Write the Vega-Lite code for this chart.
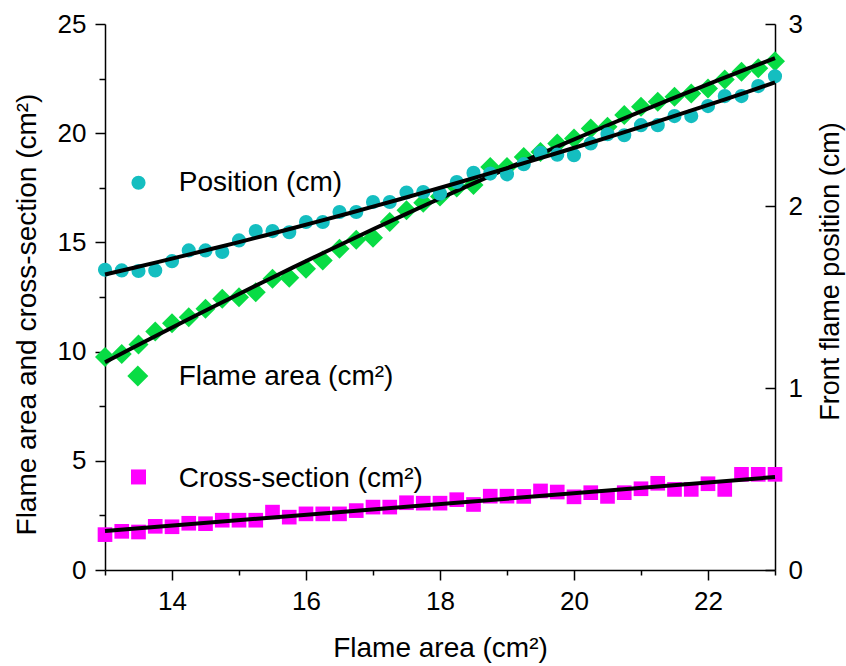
{
  "$schema": "https://vega.github.io/schema/vega-lite/v6.json",
  "width": 670,
  "height": 546,
  "autosize": {"type": "none"},
  "padding": {"left": 105, "top": 24, "right": 71, "bottom": 96},
  "background": "white",
  "config": {
    "view": {"stroke": null},
    "font": "Liberation Sans",
    "axis": {
      "domainColor": "black", "tickColor": "black", "labelColor": "black", "titleColor": "black",
      "labelFont": "Liberation Sans", "titleFont": "Liberation Sans",
      "grid": false, "domainWidth": 1.5, "tickWidth": 1.5,
      "labelFontSize": 26, "titleFontSize": 28, "titleFontWeight": "normal"
    }
  },
  "data": {"values": [
    {"x": 13, "flame": 9.75, "cross": 1.62, "pos": 1.650},
    {"x": 13.25, "flame": 9.89, "cross": 1.77, "pos": 1.646},
    {"x": 13.5, "flame": 10.32, "cross": 1.74, "pos": 1.643},
    {"x": 13.75, "flame": 10.92, "cross": 2.0, "pos": 1.646},
    {"x": 14, "flame": 11.30, "cross": 1.98, "pos": 1.697},
    {"x": 14.25, "flame": 11.57, "cross": 2.14, "pos": 1.756},
    {"x": 14.5, "flame": 11.96, "cross": 2.12, "pos": 1.756},
    {"x": 14.75, "flame": 12.42, "cross": 2.28, "pos": 1.747},
    {"x": 15, "flame": 12.49, "cross": 2.28, "pos": 1.811},
    {"x": 15.25, "flame": 12.72, "cross": 2.28, "pos": 1.862},
    {"x": 15.5, "flame": 13.33, "cross": 2.65, "pos": 1.862},
    {"x": 15.75, "flame": 13.38, "cross": 2.42, "pos": 1.856},
    {"x": 16, "flame": 13.79, "cross": 2.57, "pos": 1.912},
    {"x": 16.25, "flame": 14.17, "cross": 2.57, "pos": 1.912},
    {"x": 16.5, "flame": 14.71, "cross": 2.57, "pos": 1.967},
    {"x": 16.75, "flame": 15.12, "cross": 2.72, "pos": 1.967},
    {"x": 17, "flame": 15.21, "cross": 2.88, "pos": 2.022},
    {"x": 17.25, "flame": 15.93, "cross": 2.88, "pos": 2.022},
    {"x": 17.5, "flame": 16.47, "cross": 3.08, "pos": 2.074},
    {"x": 17.75, "flame": 16.82, "cross": 3.06, "pos": 2.077},
    {"x": 18, "flame": 17.1, "cross": 3.06, "pos": 2.068},
    {"x": 18.25, "flame": 17.51, "cross": 3.22, "pos": 2.132},
    {"x": 18.5, "flame": 17.63, "cross": 3.0, "pos": 2.182},
    {"x": 18.75, "flame": 18.45, "cross": 3.38, "pos": 2.178},
    {"x": 19, "flame": 18.45, "cross": 3.38, "pos": 2.174},
    {"x": 19.25, "flame": 18.91, "cross": 3.37, "pos": 2.230},
    {"x": 19.5, "flame": 19.14, "cross": 3.62, "pos": 2.292},
    {"x": 19.75, "flame": 19.53, "cross": 3.57, "pos": 2.282},
    {"x": 20, "flame": 19.76, "cross": 3.35, "pos": 2.279},
    {"x": 20.25, "flame": 20.22, "cross": 3.54, "pos": 2.344},
    {"x": 20.5, "flame": 20.3, "cross": 3.37, "pos": 2.394},
    {"x": 20.75, "flame": 20.83, "cross": 3.54, "pos": 2.389},
    {"x": 21, "flame": 21.21, "cross": 3.72, "pos": 2.444},
    {"x": 21.25, "flame": 21.44, "cross": 3.97, "pos": 2.444},
    {"x": 21.5, "flame": 21.67, "cross": 3.69, "pos": 2.494},
    {"x": 21.75, "flame": 21.82, "cross": 3.69, "pos": 2.494},
    {"x": 22, "flame": 22.05, "cross": 3.95, "pos": 2.549},
    {"x": 22.25, "flame": 22.46, "cross": 3.69, "pos": 2.604},
    {"x": 22.5, "flame": 22.81, "cross": 4.38, "pos": 2.604},
    {"x": 22.75, "flame": 22.97, "cross": 4.38, "pos": 2.659},
    {"x": 23, "flame": 23.3, "cross": 4.38, "pos": 2.713}
  ]},
  "layer": [
    {
      "layer": [
        {
          "mark": {"type": "point", "shape": "diamond", "filled": true, "size": 400, "color": "#08DC44", "opacity": 1},
          "encoding": {
            "x": {"field": "x", "type": "quantitative", "scale": {"domain": [13, 23], "nice": false, "zero": false},
              "axis": {"values": [13,14,15,16,17,18,19,20,21,22,23], "format": "d",
                "labelExpr": "datum.value % 2 == 0 ? datum.label : ''",
                "tickSize": {"condition": {"test": "datum.value % 2 == 0", "value": 10}, "value": 5},
                "labelPadding": 8,
                "title": "Flame area (cm²)", "titleY": 86, "titleBaseline": "alphabetic"}},
            "y": {"field": "flame", "type": "quantitative", "scale": {"domain": [0, 25], "nice": false, "zero": true},
              "axis": {"values": [0,2.5,5,7.5,10,12.5,15,17.5,20,22.5,25], "format": "d",
                "labelExpr": "datum.value % 5 == 0 ? datum.label : ''",
                "tickSize": {"condition": {"test": "datum.value % 5 == 0", "value": 10}, "value": 6},
                "labelPadding": 9,
                "title": "Flame area and cross-section (cm²)", "titleAngle": 270, "titleX": -69.5, "titleY": 290,
                "titleBaseline": "alphabetic", "titleAlign": "center"}}
          }
        },
        {
          "mark": {"type": "point", "shape": "square", "filled": true, "size": 215, "color": "#FF00FF", "opacity": 1},
          "encoding": {
            "x": {"field": "x", "type": "quantitative"},
            "y": {"field": "cross", "type": "quantitative"}
          }
        },
        {
          "transform": [{"regression": "flame", "on": "x", "method": "poly", "order": 2}],
          "mark": {"type": "line", "color": "black", "strokeWidth": 4},
          "encoding": {
            "x": {"field": "x", "type": "quantitative"},
            "y": {"field": "flame", "type": "quantitative"}
          }
        },
        {
          "transform": [{"regression": "cross", "on": "x", "method": "linear"}],
          "mark": {"type": "line", "color": "black", "strokeWidth": 4},
          "encoding": {
            "x": {"field": "x", "type": "quantitative"},
            "y": {"field": "cross", "type": "quantitative"}
          }
        },
        {
          "data": {"values": [{}]},
          "mark": {"type": "point", "shape": "circle", "filled": true, "size": 200, "color": "#14BEC0", "opacity": 1},
          "encoding": {"x": {"datum": 13.5, "type": "quantitative"}, "y": {"datum": 17.73, "type": "quantitative"}}
        },
        {
          "data": {"values": [{}]},
          "mark": {"type": "point", "shape": "diamond", "filled": true, "size": 440, "color": "#08DC44", "opacity": 1},
          "encoding": {"x": {"datum": 13.49, "type": "quantitative"}, "y": {"datum": 8.88, "type": "quantitative"}}
        },
        {
          "data": {"values": [{}]},
          "mark": {"type": "point", "shape": "square", "filled": true, "size": 225, "color": "#FF00FF", "opacity": 1},
          "encoding": {"x": {"datum": 13.5, "type": "quantitative"}, "y": {"datum": 4.26, "type": "quantitative"}}
        },
        {
          "data": {"values": [{}]},
          "mark": {"type": "text", "text": "Position (cm)", "align": "left", "baseline": "alphabetic", "fontSize": 28, "font": "Liberation Sans", "color": "black"},
          "encoding": {"x": {"datum": 14.1, "type": "quantitative"}, "y": {"datum": 17.36, "type": "quantitative"}}
        },
        {
          "data": {"values": [{}]},
          "mark": {"type": "text", "text": "Flame area (cm²)", "align": "left", "baseline": "alphabetic", "fontSize": 28, "font": "Liberation Sans", "color": "black"},
          "encoding": {"x": {"datum": 14.1, "type": "quantitative"}, "y": {"datum": 8.47, "type": "quantitative"}}
        },
        {
          "data": {"values": [{}]},
          "mark": {"type": "text", "text": "Cross-section (cm²)", "align": "left", "baseline": "alphabetic", "fontSize": 28, "font": "Liberation Sans", "color": "black"},
          "encoding": {"x": {"datum": 14.1, "type": "quantitative"}, "y": {"datum": 3.81, "type": "quantitative"}}
        }
      ]
    },
    {
      "layer": [
        {
          "mark": {"type": "point", "shape": "circle", "filled": true, "size": 200, "color": "#14BEC0", "opacity": 1},
          "encoding": {
            "x": {"field": "x", "type": "quantitative"},
            "y": {"field": "pos", "type": "quantitative", "scale": {"domain": [0, 3], "nice": false, "zero": true},
              "axis": {"orient": "right", "values": [0,0.5,1,1.5,2,2.5,3], "format": "d",
                "labelExpr": "datum.value % 1 == 0 ? datum.label : ''",
                "tickSize": {"condition": {"test": "datum.value % 1 == 0", "value": -10}, "value": -5},
                "labelPadding": 23,
                "title": "Front flame position (cm)", "titleAngle": 270, "titleX": 63, "titleY": 247,
                "titleBaseline": "alphabetic", "titleAlign": "center", "titleFontSize": 27}}
          }
        },
        {
          "transform": [{"regression": "pos", "on": "x", "method": "poly", "order": 2}],
          "mark": {"type": "line", "color": "black", "strokeWidth": 4},
          "encoding": {
            "x": {"field": "x", "type": "quantitative"},
            "y": {"field": "pos", "type": "quantitative"}
          }
        }
      ]
    }
  ],
  "resolve": {"scale": {"y": "independent"}}
}
